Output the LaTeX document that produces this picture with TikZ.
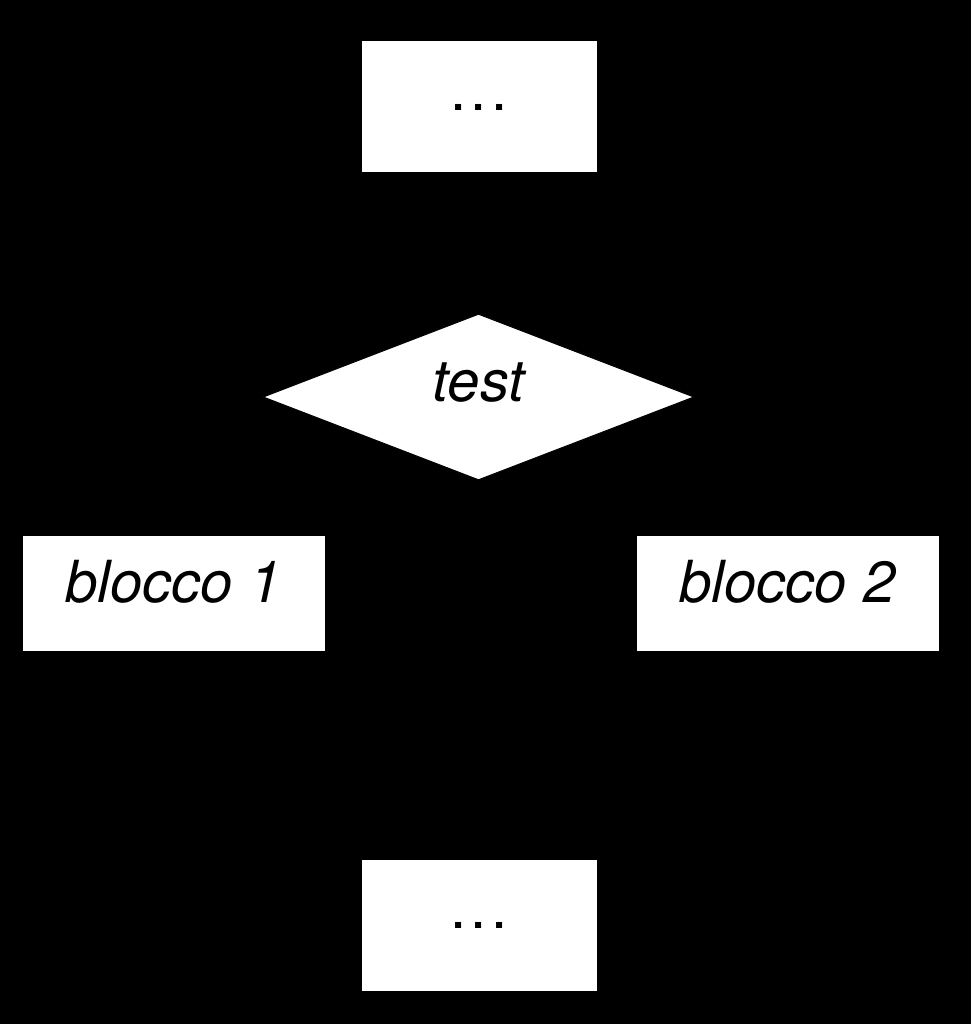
\documentclass[tikz,border=0pt]{standalone}
\usepackage{fontspec}
\setmainfont{TeX Gyre Heros}
\usetikzlibrary{shapes.geometric,arrows.meta}
\newcommand{\mydots}{.\kern4pt.\kern4pt.}
\begin{document}
\begin{tikzpicture}[x=1pt,y=-1pt,
 box/.style={draw=black,fill=white,line width=1pt,minimum width=236pt,minimum height=132pt,inner sep=0pt,font=\fontsize{58}{60}\selectfont},
 blk/.style={box,minimum width=303pt,minimum height=116pt,font=\fontsize{58}{60}\selectfont\itshape,text depth=24pt},
 dec/.style={diamond,draw=black,fill=white,line width=1pt,minimum width=431pt,minimum height=166pt,inner sep=0pt,font=\fontsize{58}{60}\selectfont\itshape,text depth=30pt},
 conn/.style={draw=black,line width=3pt,-{Latex[length=20pt]}},
 line/.style={draw=black,line width=3pt}]
\fill[black] (0,0) rectangle (971,1024);
\useasboundingbox (0,0) rectangle (971,1024);
\node[box] (top) at (479,107) {\mydots};
\node[dec] (test) at (478.5,397) {test};
\node[blk] (b1) at (173.5,593) {blocco 1};
\node[blk] (b2) at (787.5,593) {blocco 2};
\node[box] (bot) at (479,925.5) {\mydots};
\coordinate (m) at (479,790);
\draw[conn] (top) -- (test);
\draw[conn] (test.west) -| (b1.north);
\draw[conn] (test.east) -| (b2.north);
\draw[line] (b1.south) |- (m);
\draw[line] (b2.south) |- (m);
\draw[conn] (m) -- (bot);
\end{tikzpicture}
\end{document}
